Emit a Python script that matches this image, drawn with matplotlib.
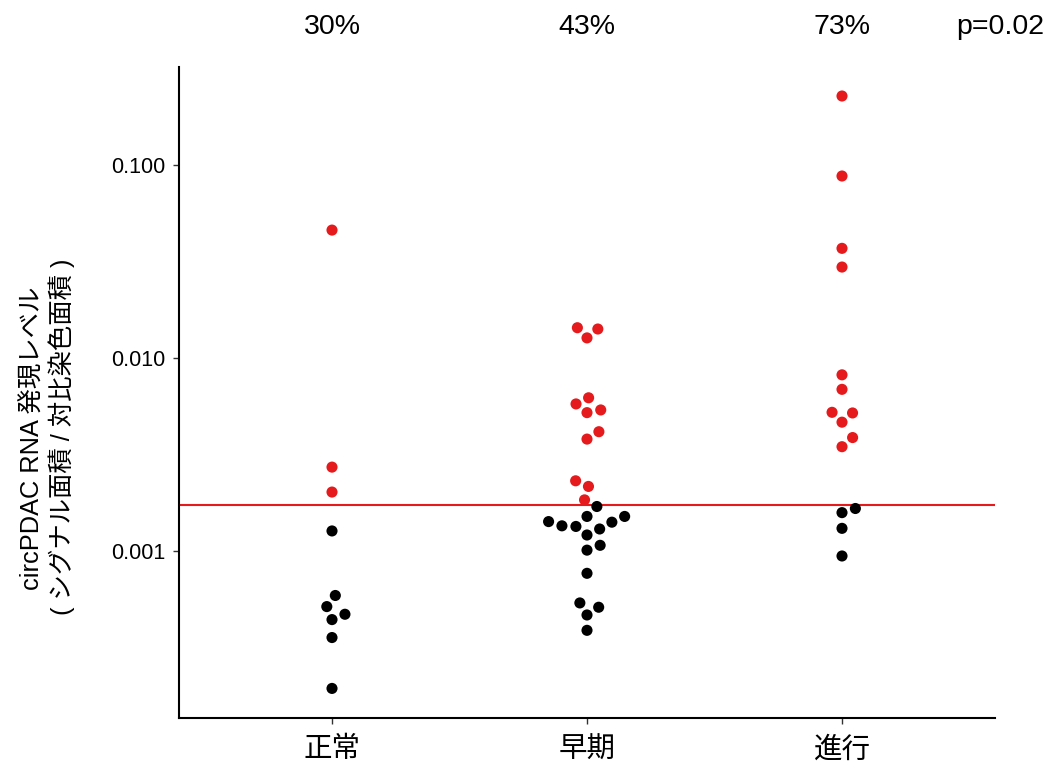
import numpy as np
import matplotlib
matplotlib.use("Agg")
import matplotlib.pyplot as plt
import matplotlib.transforms as mtransforms
from matplotlib.ticker import FixedLocator, FixedFormatter, NullLocator

plt.rcParams['font.family'] = ['Liberation Sans', 'Noto Sans CJK JP', 'DejaVu Sans']

# data
groups = ["正常", "早期", "進行"]
normal = [0.046, 0.00272, 0.00202, 0.00127, 0.000588, 0.000515, 0.000470,
          0.000441, 0.000356, 0.000194]
early = [0.01435, 0.01413, 0.01271, 0.00622, 0.00578, 0.00538, 0.00521,
         0.00415, 0.00380, 0.00231, 0.00216, 0.00184,
         0.00170, 0.00151, 0.00142, 0.00135, 0.00134, 0.00151, 0.00141,
         0.00130, 0.00121, 0.00107, 0.00101, 0.000766, 0.000538, 0.000511,
         0.000466, 0.000388]
advanced = [0.2278, 0.0877, 0.0370, 0.0296, 0.00818, 0.00688, 0.00523,
            0.00519, 0.00465, 0.00387, 0.00347,
            0.00166, 0.00158, 0.00131, 0.000942]
cutoff = 0.00174
p_text = "p=0.02"
ytick_vals = [0.001, 0.01, 0.1]
ytick_labels = ["0.001", "0.010", "0.100"]

red = "#E41A1C"
W, H = 1054, 767
fig = plt.figure(figsize=(W / 100, H / 100), dpi=100)
ax = fig.add_axes([179 / W, (H - 717.7) / H, (995 - 179) / W, (717.7 - 67) / H])
ax.set_yscale("log")
ax.set_xlim(0.4, 3.6)
ax.set_ylim(1.368e-4, 0.322)


def swarm(vals, xc, spacing=14.0):
    # simple beeswarm in pixel space, lowest value placed first
    vals = np.asarray(vals)
    order = np.argsort(vals, kind="stable")
    ypx = ax.transData.transform(np.column_stack([np.full(len(vals), xc), vals]))[:, 1]
    placed = []
    offs = np.zeros(len(vals))
    for i in order:
        y = ypx[i]
        cands = [0.0]
        for (px, py) in placed:
            dy = abs(py - y)
            if dy < spacing:
                dx = np.sqrt(spacing ** 2 - dy ** 2)
                cands += [px + dx, px - dx]
        cands = sorted(cands, key=lambda c: (round(abs(c), 6), -c))
        for c in cands:
            ok = all((c - px) ** 2 + (y - py) ** 2 >= spacing ** 2 - 1e-6
                     for (px, py) in placed)
            if ok:
                break
        offs[i] = c
        placed.append((c, y))
    unit = ax.transData.transform((1, 1))[0] - ax.transData.transform((0, 1))[0]
    return xc + offs / unit


trans_top = mtransforms.blended_transform_factory(ax.transData, fig.transFigure)
for k, vals in enumerate([normal, early, advanced]):
    xc = k + 1
    xs = swarm(vals, xc)
    vals = np.asarray(vals)
    cols = [red if v > cutoff else "black" for v in vals]
    ax.scatter(xs, vals, s=64, c=cols, linewidths=0, zorder=3)
    pct = 100.0 * np.mean(vals > cutoff)
    fig.text(xc, 1 - 27 / H, f"{pct:.0f}%", transform=trans_top,
             ha="center", va="center", fontsize=20.5)
fig.text(1000 / W, 1 - 27 / H, p_text, ha="center", va="center", fontsize=20.5)

ax.axhline(cutoff, color=red, lw=1.5, zorder=2)

ax.set_xticks([1, 2, 3])
ax.set_xticklabels(groups, fontsize=20.5)
ax.yaxis.set_major_locator(FixedLocator(ytick_vals))
ax.yaxis.set_major_formatter(FixedFormatter(ytick_labels))
ax.yaxis.set_minor_locator(NullLocator())
ax.tick_params(axis="y", labelsize=15.5, length=4, width=1, color="#333333", pad=6)
ax.tick_params(axis="x", length=4, width=1, color="#333333", pad=10)

for s in ["top", "right"]:
    ax.spines[s].set_visible(False)
for s in ["left", "bottom"]:
    ax.spines[s].set_linewidth(1.5)

fig.text(32 / W, 1 - 438 / H, "circPDAC RNA 発現レベル", rotation=90,
         ha="center", va="center", fontsize=18.3)
fig.text(62 / W, 1 - 437 / H, "( シグナル面積 / 対比染色面積 )", rotation=90,
         ha="center", va="center", fontsize=18.3)

fig.savefig("out.png", dpi=100)
